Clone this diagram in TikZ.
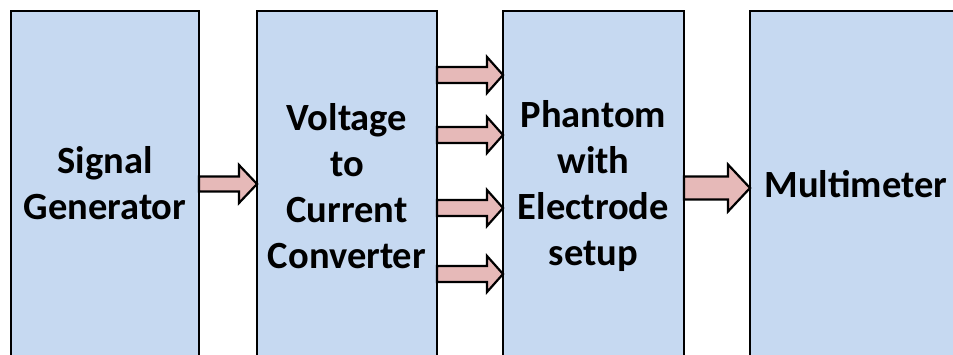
\documentclass[tikz,border=0pt]{standalone}
\usepackage{fontspec}
\setmainfont{Carlito}
\usetikzlibrary{calc}
\definecolor{boxblue}{HTML}{C6D9F1}
\definecolor{arrpink}{HTML}{E6B9B8}
\tikzset{
  blk/.style={draw=black, line width=2.4pt, fill=boxblue, rectangle, inner sep=0pt, outer sep=0pt},
  lbl/.style={align=center, font=\fontsize{38.5}{46}\selectfont\bfseries, text=black, inner sep=0pt},
  barrow/.style={draw=black, line width=2.2pt, fill=arrpink, line join=miter},
}
% #1 start, #2 end, #3 half shaft, #4 half head, #5 head length
\newcommand{\blockarrow}[5]{%
  \draw[barrow] let \p1=#1, \p2=#2 in
    (\x1,\y1+#3) -- (\x2-#5,\y1+#3) -- (\x2-#5,\y1+#4) -- (\x2,\y1)
    -- (\x2-#5,\y1-#4) -- (\x2-#5,\y1-#3) -- (\x1,\y1-#3) -- cycle;}
\begin{document}
\begin{tikzpicture}[x=1pt,y=-1pt]
\useasboundingbox (0,0) rectangle (953,354);
\begin{scope}
\clip (0,0) rectangle (953,354);
\node[blk, minimum width=188pt, minimum height=345pt] (b1) at (105,183.5) {};
\node[blk, minimum width=180pt, minimum height=345pt] (b2) at (347,183.5) {};
\node[blk, minimum width=181pt, minimum height=345pt] (b3) at (593.5,183.5) {};
\node[blk, minimum width=212pt, minimum height=345pt] (b4) at (856,183.5) {};
\node[lbl] (t1) at (b1.center) {Signal\\Generator};
\node[lbl] (t2) at ([yshift=-2.5pt]b2.center) {Voltage\\to\\Current\\Converter};
\node[lbl] (t3) at ([yshift=-2.5pt]b3.center) {Phantom\\with\\Electrode\\setup};
\node[lbl] (t4) at ([yshift=-0.5pt]b4.center) {Multimeter};
\coordinate (a1s) at ([yshift=-0.5pt]b1.east);
\coordinate (a1e) at ([yshift=-0.5pt]b2.west);
\blockarrow{(a1s)}{(a1e)}{7.5pt}{19pt}{18pt}
\coordinate (p1s) at ([yshift=108.5pt]b2.east);
\coordinate (p1e) at ([yshift=108.5pt]b3.west);
\blockarrow{(p1s)}{(p1e)}{8pt}{18pt}{16pt}
\coordinate (p2s) at ([yshift=48.5pt]b2.east);
\coordinate (p2e) at ([yshift=48.5pt]b3.west);
\blockarrow{(p2s)}{(p2e)}{8pt}{18pt}{16pt}
\coordinate (p3s) at ([yshift=-24.5pt]b2.east);
\coordinate (p3e) at ([yshift=-24.5pt]b3.west);
\blockarrow{(p3s)}{(p3e)}{8pt}{18pt}{16pt}
\coordinate (p4s) at ([yshift=-90.5pt]b2.east);
\coordinate (p4e) at ([yshift=-90.5pt]b3.west);
\blockarrow{(p4s)}{(p4e)}{8pt}{18pt}{16pt}
\coordinate (a3s) at ([yshift=-4.5pt]b3.east);
\coordinate (a3e) at ([yshift=-4.5pt]b4.west);
\blockarrow{(a3s)}{(a3e)}{11.5pt}{23.5pt}{22pt}
\end{scope}
\end{tikzpicture}
\end{document}
